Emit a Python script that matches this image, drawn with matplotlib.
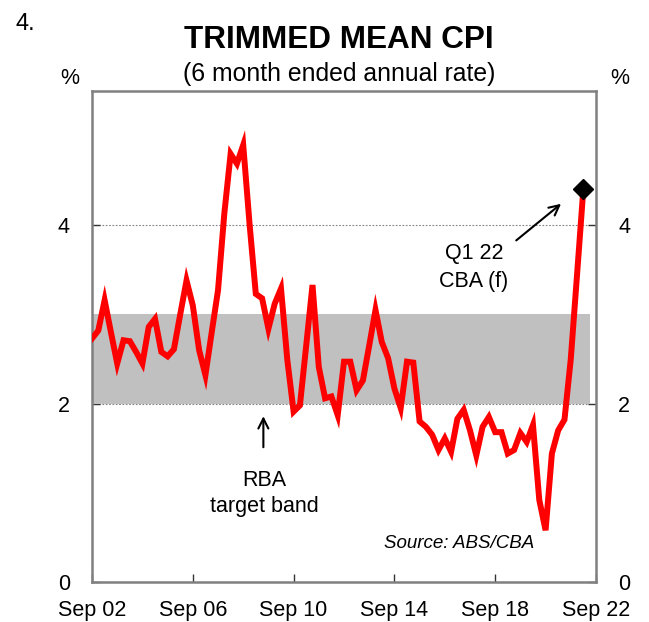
import matplotlib
matplotlib.use("Agg")
import matplotlib.pyplot as plt
import numpy as np

plt.rcParams['font.family'] = ['Liberation Sans', 'DejaVu Sans']

# quarterly, Sep 02 .. Mar 22 (last point is CBA forecast)
trimmed_mean = [2.73, 2.82, 3.16, 2.80, 2.45, 2.71, 2.70, 2.58, 2.45, 2.86,
                2.95, 2.58, 2.53, 2.61, 3.00, 3.38, 3.10, 2.60, 2.32, 2.80,
                3.27, 4.13, 4.80, 4.69, 4.90, 4.02, 3.23, 3.18, 2.84, 3.12,
                3.29, 2.49, 1.91, 1.98, 2.65, 3.33, 2.41, 2.06, 2.08, 1.87,
                2.47, 2.47, 2.15, 2.26, 2.65, 3.05, 2.69, 2.51, 2.17, 1.95,
                2.47, 2.46, 1.80, 1.74, 1.65, 1.48, 1.61, 1.46, 1.83, 1.93,
                1.70, 1.42, 1.74, 1.85, 1.68, 1.68, 1.44, 1.48, 1.67, 1.57,
                1.76, 0.92, 0.58, 1.44, 1.70, 1.82, 2.50, 3.45, 4.41]
band_low = 2
band_high = 3
tick_labels = ['Sep 02', 'Sep 06', 'Sep 10', 'Sep 14', 'Sep 18', 'Sep 22']
y_ticks = [0, 2, 4]

q = np.arange(len(trimmed_mean))

fig = plt.figure(figsize=(6.49, 6.22), dpi=100)
ax = fig.add_axes([0.1418, 0.0643, 0.9183 - 0.1418, 0.853 - 0.0643])

ax.set_axisbelow(True)
ax.grid(axis='y', color='#808080', linestyle=(0, (1.5, 1.5)), lw=0.8)
ax.fill_between([0, len(trimmed_mean)], band_low, band_high, color='#c0c0c0', lw=0, zorder=1)
ax.plot(q, trimmed_mean, color='#ff0000', lw=4.3, solid_joinstyle='miter', zorder=3)
ax.plot(q[-1], trimmed_mean[-1], marker='D', color='black', ms=10, zorder=4)

ax.set_xlim(0, 80)
ax.set_ylim(0, 5.5)
ax.set_xticks(np.arange(len(tick_labels)) * 16)
ax.set_xticklabels(tick_labels)
ax.set_yticks(y_ticks)
ax.tick_params(axis='both', direction='in', length=6, width=1, labelsize=15.5, colors='#333333', labelcolor='black')
ax.tick_params(axis='x', pad=13)
ax.tick_params(axis='y', pad=16, right=True, labelright=True)
for s in ax.spines.values():
    s.set_color('#808080')
    s.set_linewidth(1.8)

# labels and notes
fig.text(0.039, 0.962, '4.', fontsize=17, ha='center', va='center')
fig.text(0.522, 0.935, 'TRIMMED MEAN CPI', fontsize=22.7, fontweight='bold', ha='center', va='center')
fig.text(0.523, 0.881, '(6 month ended annual rate)', fontsize=17.8, ha='center', va='center')
fig.text(0.108, 0.873, '%', fontsize=15.5, ha='center', va='center')
fig.text(0.955, 0.873, '%', fontsize=15.5, ha='center', va='center')

ax.text(60.6, 3.53, 'Q1 22\nCBA (f)', fontsize=15.5, ha='center', va='center', linespacing=1.45)
ax.annotate('', xy=(74.8, 4.26), xytext=(67.0, 3.81),
            arrowprops=dict(arrowstyle='->', color='black', lw=1.5, mutation_scale=18))
ax.annotate('', xy=(27.2, 1.89), xytext=(27.2, 1.48),
            arrowprops=dict(arrowstyle='->', color='black', lw=1.5, mutation_scale=18))
ax.text(27.4, 0.99, 'RBA\ntarget band', fontsize=15.5, ha='center', va='center', linespacing=1.3)
ax.text(70.2, 0.43, 'Source: ABS/CBA', fontsize=13.5, style='italic', ha='right', va='center')

fig.savefig('out.png', dpi=100)
